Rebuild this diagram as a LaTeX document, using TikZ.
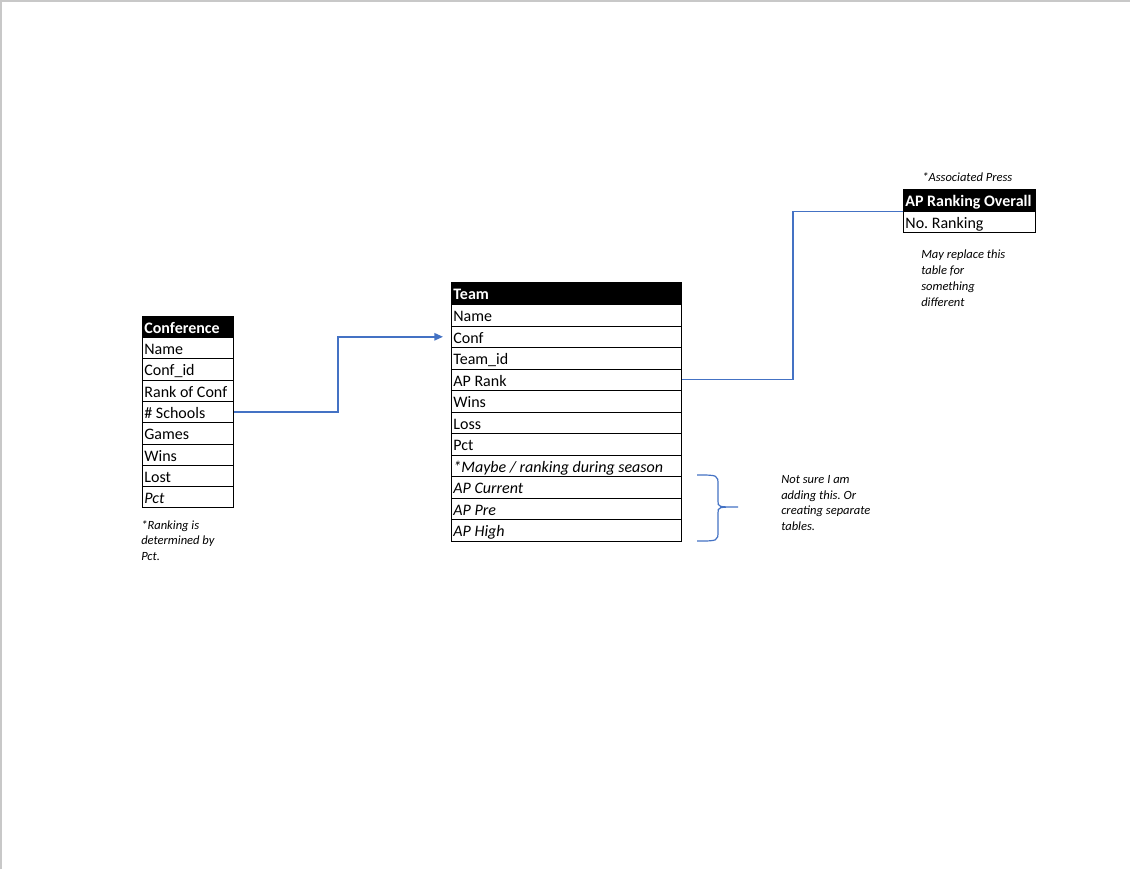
\documentclass[tikz,border=0pt]{standalone}
\usepackage{fontspec}
\setmainfont{Carlito}
\usetikzlibrary{arrows.meta}
\definecolor{lnblue}{HTML}{4472C4}
\definecolor{framegray}{HTML}{C8C8C8}
\frenchspacing
\begin{document}
\begin{tikzpicture}[x=0.75pt,y=-0.75pt,
  cell/.style={draw=black, line width=0.8pt, rectangle, anchor=north west,
    inner xsep=1.4pt, inner ysep=0pt, text width=#1, align=flush left,
    text height=11pt, text depth=1.5pt,
    font=\fontsize{12}{14}\selectfont},
  hdr/.style={cell=#1, fill=black, text=white, font=\fontsize{12}{14}\selectfont\bfseries},
  note/.style={anchor=north west, inner sep=0pt, align=left,
    font=\fontsize{9.4}{11.8}\selectfont\itshape},
  conn/.style={draw=lnblue, line width=1.3pt},
  thin/.style={draw=lnblue, line width=0.9pt}
]
\useasboundingbox (0,0) rectangle (1130,869);
\fill[white] (0,0) rectangle (1130,869);
\draw[framegray, line width=1.2pt] (0.8,869) -- (0.8,0.8) -- (1130,0.8);

% Conference table
\node[hdr=65.45pt, minimum height=16.1pt] (c0) at (142,315.5) {\mbox{Conference}};
\foreach \t [count=\i] in {Name,{Conf\_id},Rank of Conf,{\# Schools},Games,Wins,Lost,{\textit{Pct}}}
  \node[cell=65.45pt, minimum height=15.98pt] (c\i) at (142,{337+(\i-1)*21.3}) {\mbox{\t}};
\node[note] (cn) at (141,520) {*Ranking is\\determined by\\Pct.};

% Team table
\node[hdr=169.7pt, minimum height=16.5pt] (t0) at (451,282) {\mbox{Team}};
\foreach \t [count=\i] in {Name,Conf,{Team\_id},AP Rank,Wins,Loss,Pct,{\textit{*Maybe / ranking during season}},{\textit{AP Current}},{\textit{AP Pre}},{\textit{AP High}}}
  \node[cell=169.7pt, minimum height=16.125pt] (t\i) at (451,{304+(\i-1)*21.5}) {\mbox{\t}};

% AP table
\node[note] (an) at (922,172) {*Associated Press};
\node[hdr=96.2pt, minimum height=16.1pt] (a0) at (903,189) {\mbox{AP Ranking Overall}};
\node[cell=96.2pt, minimum height=16.1pt] (a1) at (903,210.5) {\mbox{No. Ranking}};
\node[note] (mn) at (921,250) {May replace this\\table for\\something\\different};

% brace and note
\draw[thin] (697,475) .. controls (718,475) .. (718,485) -- (718,501)
  .. controls (718,507) .. (738,507) .. controls (718,507) .. (718,513)
  -- (718,531) .. controls (718,541) .. (697,541);
\node[note] (bn) at (781,475) {Not sure I am\\adding this. Or\\creating separate\\tables.};

% connectors
\coordinate (k1) at (338,0);
\draw[conn, -{Triangle[length=6.5pt,width=5.5pt]}] (c4.east) -- (c4.east -| k1) |- ([xshift=-6pt]t2.west);
\coordinate (k2) at (793,0);
\draw[thin] (t4.east) -- (t4.east -| k2) |- (a0.south west);
\end{tikzpicture}
\end{document}
